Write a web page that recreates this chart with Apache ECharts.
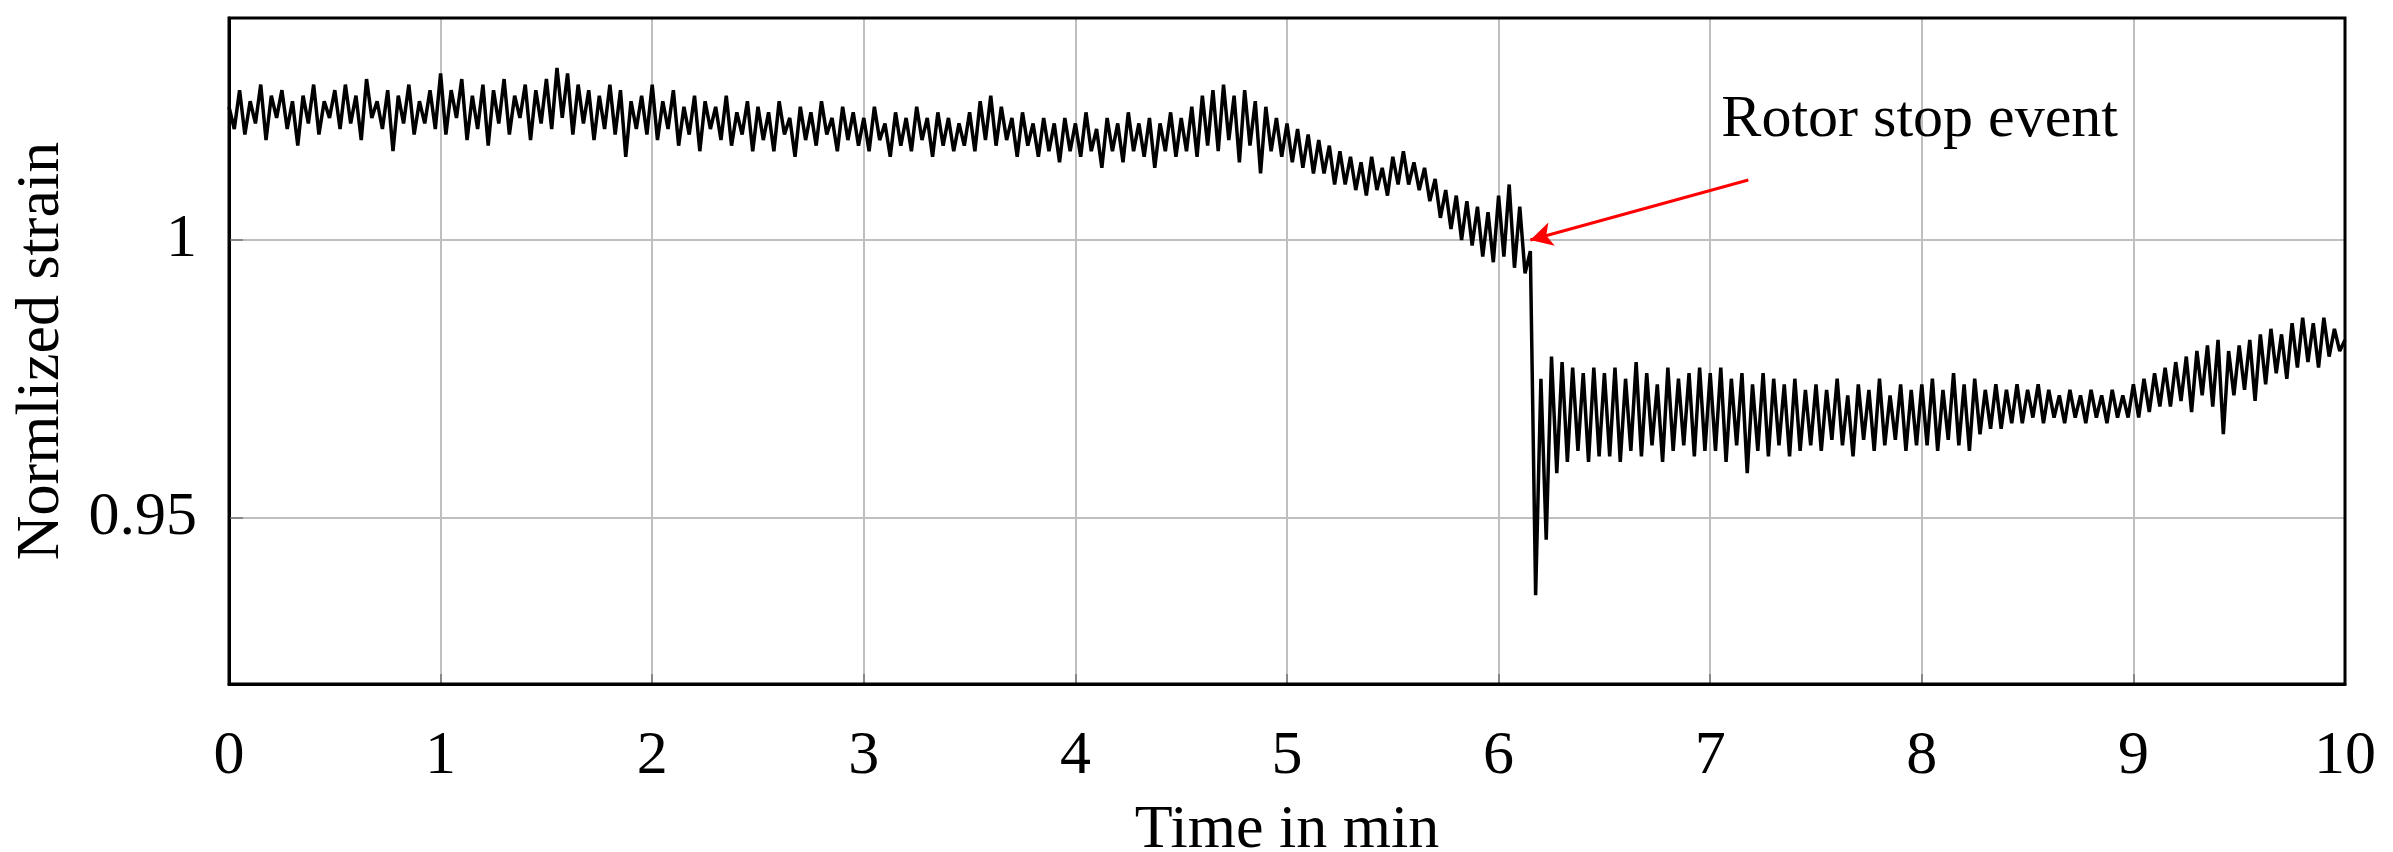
<!DOCTYPE html>
<html><head><meta charset="utf-8">
<script src="https://cdn.jsdelivr.net/npm/echarts@6/dist/echarts.min.js"></script>
<style>html,body{margin:0;padding:0;background:#fff}#c{width:2393px;height:852px}</style>
</head><body><div id="c"></div>
<script>
const timeStep = 0.025; // min
const strain = [
1.024,1.020,1.027,1.019,1.025,1.021,1.028,1.018,1.026,1.022,1.027,1.020,1.025,1.017,1.026,1.021,1.028,1.019,1.025,1.022,
1.027,1.020,1.028,1.021,1.026,1.018,1.029,1.022,1.025,1.020,1.027,1.016,1.026,1.021,1.028,1.019,1.025,1.021,1.027,1.020,
1.030,1.019,1.027,1.022,1.029,1.018,1.026,1.020,1.028,1.017,1.027,1.021,1.029,1.019,1.026,1.022,1.028,1.018,1.027,1.021,
1.029,1.020,1.031,1.022,1.030,1.019,1.028,1.021,1.027,1.018,1.026,1.020,1.028,1.019,1.027,1.015,1.025,1.020,1.026,1.019,
1.028,1.018,1.025,1.020,1.027,1.017,1.024,1.019,1.026,1.016,1.025,1.020,1.024,1.018,1.026,1.017,1.023,1.019,1.025,1.016,
1.024,1.018,1.023,1.016,1.025,1.019,1.022,1.015,1.024,1.018,1.023,1.017,1.025,1.019,1.022,1.016,1.024,1.018,1.023,1.017,
1.022,1.016,1.024,1.018,1.021,1.015,1.023,1.017,1.022,1.016,1.024,1.018,1.022,1.015,1.023,1.017,1.022,1.016,1.021,1.017,
1.023,1.016,1.025,1.018,1.026,1.017,1.024,1.018,1.022,1.015,1.023,1.017,1.021,1.015,1.022,1.016,1.021,1.014,1.022,1.016,
1.021,1.015,1.023,1.016,1.020,1.013,1.022,1.016,1.021,1.014,1.023,1.016,1.021,1.015,1.022,1.013,1.021,1.016,1.023,1.015,
1.022,1.016,1.024,1.015,1.026,1.017,1.027,1.016,1.028,1.018,1.026,1.014,1.027,1.017,1.025,1.012,1.024,1.016,1.022,1.015,
1.021,1.014,1.020,1.013,1.019,1.012,1.018,1.012,1.017,1.010,1.016,1.010,1.015,1.009,1.014,1.008,1.015,1.009,1.013,1.008,
1.015,1.010,1.016,1.010,1.014,1.009,1.013,1.007,1.011,1.004,1.009,1.002,1.008,1.000,1.007,0.999,1.006,0.997,1.005,0.996,
1.008,0.997,1.010,0.995,1.006,0.994,0.998,0.936,0.975,0.946,0.979,0.958,0.978,0.960,0.977,0.962,0.976,0.960,0.977,0.961,
0.976,0.961,0.977,0.960,0.975,0.962,0.978,0.961,0.976,0.963,0.974,0.960,0.977,0.962,0.975,0.963,0.976,0.961,0.977,0.962,
0.976,0.962,0.977,0.960,0.975,0.963,0.976,0.958,0.974,0.962,0.976,0.961,0.975,0.963,0.974,0.961,0.975,0.962,0.973,0.963,
0.974,0.962,0.973,0.964,0.975,0.963,0.972,0.961,0.974,0.964,0.973,0.962,0.975,0.963,0.972,0.964,0.974,0.962,0.973,0.963,
0.974,0.963,0.975,0.962,0.973,0.964,0.976,0.963,0.974,0.962,0.975,0.965,0.973,0.966,0.974,0.966,0.973,0.967,0.974,0.967,
0.973,0.968,0.974,0.967,0.973,0.968,0.972,0.967,0.973,0.968,0.972,0.967,0.973,0.968,0.972,0.967,0.973,0.968,0.972,0.968,
0.974,0.968,0.975,0.969,0.976,0.970,0.977,0.970,0.978,0.971,0.979,0.969,0.980,0.972,0.981,0.970,0.982,0.965,0.980,0.972,
0.981,0.973,0.982,0.971,0.983,0.974,0.984,0.976,0.983,0.975,0.985,0.977,0.986,0.978,0.985,0.977,0.986,0.979,0.984,0.980,
0.982
];
const yTicks = [0.95, 1];
const annotText = 'Rotor stop event';
const arrowFrom = [7.18, 1.0108];
const arrowTo = [6.15, 1.0];
const textPos = [7.99, 1.0215];

const data = strain.map((v,i)=>[+(i*timeStep).toFixed(3), v]);
const font = 'Liberation Serif';
const chart = echarts.init(document.getElementById('c'));
chart.setOption({
  animation:false,
  grid:{left:229,right:48,top:18,bottom:168,containLabel:false,outerBoundsMode:'none'},
  xAxis:{type:'value',min:0,max:10,interval:1,
    name:'Time in min',nameLocation:'middle',nameGap:116,
    nameTextStyle:{fontFamily:font,fontSize:62,color:'#000'},
    axisLine:{show:true,onZero:false,lineStyle:{color:'#000',width:3}},
    axisTick:{inside:true,length:10,lineStyle:{color:'#888',width:2}},
    axisLabel:{fontFamily:font,fontSize:62,color:'#000',margin:42},
    splitLine:{show:true,lineStyle:{color:'#bfbfbf',width:2}}},
  yAxis:{type:'value',min:0.92,max:1.04,
    name:'Normlized strain',nameLocation:'middle',nameGap:156,
    nameTextStyle:{fontFamily:font,fontSize:62,color:'#000'},
    axisLine:{show:true,lineStyle:{color:'#000',width:3}},
    axisTick:{inside:true,length:14,customValues:yTicks,lineStyle:{color:'#888',width:2}},
    axisLabel:{fontFamily:font,fontSize:62,color:'#000',margin:32,customValues:yTicks,formatter:v=>String(+v.toFixed(2))},
    splitLine:{show:true,lineStyle:{color:'#bfbfbf',width:2}}},
  graphic:[{type:'rect',shape:{x:229,y:18,width:2393-229-48,height:852-18-168},style:{fill:'none',stroke:'#000',lineWidth:3},z:100,silent:true}],
  series:[{type:'line',data:data,showSymbol:false,lineStyle:{color:'#000',width:3.5},
    markLine:{silent:true,symbol:['none','arrow'],symbolSize:[18,22],
      lineStyle:{color:'#ff0000',width:3,type:'solid'},label:{show:false},
      data:[[{coord:arrowFrom},{coord:arrowTo}]]},
    markPoint:{silent:true,symbol:'rect',symbolSize:1,itemStyle:{color:'rgba(0,0,0,0)'},
      label:{show:true,formatter:annotText,fontFamily:font,fontSize:60,color:'#000'},
      data:[{coord:textPos}]}
  }]
});
</script></body></html>
